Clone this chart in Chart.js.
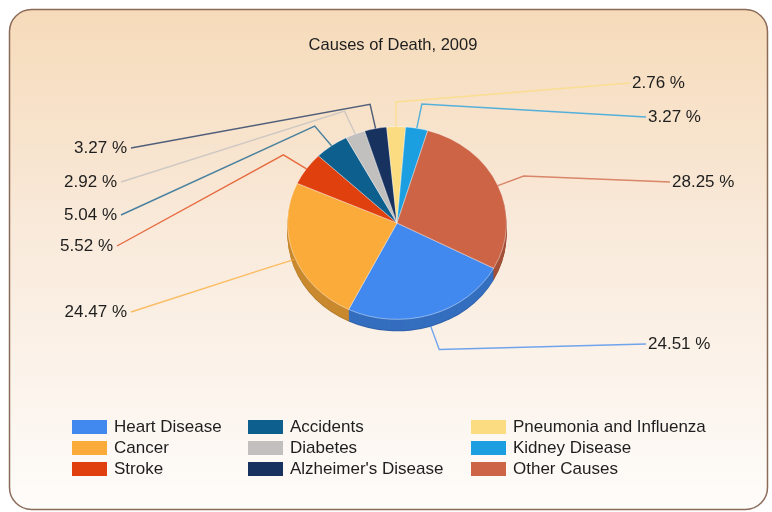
<!DOCTYPE html>
<html>
<head>
<meta charset="utf-8">
<script src="https://cdn.jsdelivr.net/npm/chart.js@4.4.1/dist/chart.umd.min.js"></script>
<style>
  html, body { margin: 0; padding: 0; background: #fff; }
  canvas { display: block; }
</style>
</head>
<body>
<canvas id="deathChart" width="772" height="512"></canvas>
<script>
        // Chart data
        const causes = ['Heart Disease', 'Cancer', 'Stroke', 'Accidents', 'Diabetes',
                        "Alzheimer's Disease", 'Pneumonia and Influenza', 'Kidney Disease', 'Other Causes'];
        const shares = [24.51, 24.47, 5.52, 5.04, 2.92, 3.27, 2.76, 3.27, 28.25];
        const sliceColors = ['#4189ef', '#fbab3a', '#e0400e', '#0d5f8e', '#c2bfbf',
                             '#17325e', '#fbdc80', '#1c9fe0', '#cd6445'];

        // Callout text anchors (layout only), same order as causes
        const calloutSide = ['right', 'left', 'left', 'left', 'left', 'left', 'right', 'right', 'right'];
        const calloutX = [648, 127, 113, 117, 117, 127, 632, 648, 672];
        const calloutY = [344, 312, 246, 215, 182, 148, 83, 117, 182];

        const TILT = 0.88;
        const DEPTH = 12;
        const FONT = '17px "Liberation Sans", Arial, sans-serif';

        function shade(hex, f, alpha) {
            const n = parseInt(hex.slice(1), 16);
            const r = Math.round(((n >> 16) & 255) * f);
            const g = Math.round(((n >> 8) & 255) * f);
            const b = Math.round((n & 255) * f);
            return 'rgba(' + r + ',' + g + ',' + b + ',' + (alpha || 1) + ')';
        }

        const pie3d = {
            id: 'pie3d',
            beforeDraw(chart) {
                const ctx = chart.ctx;
                ctx.save();
                const grad = ctx.createLinearGradient(0, 10, 0, 510);
                grad.addColorStop(0, '#f6dbba');
                grad.addColorStop(0.45, '#f9eadb');
                grad.addColorStop(1, '#fefcfa');
                ctx.beginPath();
                ctx.roundRect(9.5, 9.5, 758, 500, 22);
                ctx.fillStyle = grad;
                ctx.fill();
                ctx.lineWidth = 1.5;
                ctx.strokeStyle = '#8b6b58';
                ctx.stroke();

                ctx.fillStyle = '#1e1e1e';
                ctx.font = '16.5px "Liberation Sans", Arial, sans-serif';
                ctx.textAlign = 'center';
                ctx.textBaseline = 'middle';
                ctx.fillText('Causes of Death, 2009', 393, 45);
                ctx.restore();
            },
            beforeDatasetsDraw(chart) {
                const ctx = chart.ctx;
                const arcs = chart.getDatasetMeta(0).data;
                const cx = arcs[0].x, cy = arcs[0].y, r = arcs[0].outerRadius;
                // side of the tilted pie
                for (let d = DEPTH; d >= 1; d--) {
                    arcs.forEach((a, i) => {
                        ctx.beginPath();
                        ctx.moveTo(cx, cy + d);
                        ctx.ellipse(cx, cy + d, r, r * TILT, 0, a.startAngle, a.endAngle);
                        ctx.closePath();
                        ctx.fillStyle = shade(sliceColors[i], d === DEPTH ? 0.7 : 0.8);
                        ctx.fill();
                    });
                }
                // squash the top face
                ctx.save();
                ctx.translate(cx, cy);
                ctx.scale(1, TILT);
                ctx.translate(-cx, -cy);
            },
            afterDatasetsDraw(chart) {
                const ctx = chart.ctx;
                ctx.restore();
                const arcs = chart.getDatasetMeta(0).data;
                ctx.save();
                ctx.font = FONT;
                ctx.textBaseline = 'middle';
                arcs.forEach((a, i) => {
                    const mid = (a.startAngle + a.endAngle) / 2;
                    const s = Math.sin(mid), c = Math.cos(mid);
                    const drop = s > 0 ? DEPTH * s : 0;
                    const x0 = a.x + a.outerRadius * c;
                    const y0 = a.y + a.outerRadius * TILT * s + drop;
                    const x1 = a.x + (a.outerRadius + 28) * c;
                    const y1 = a.y + (a.outerRadius + 28) * TILT * s + drop;
                    const left = calloutSide[i] === 'left';
                    const x2 = left ? calloutX[i] + 4 : calloutX[i] - 2;
                    const y2 = calloutY[i];
                    ctx.beginPath();
                    ctx.moveTo(x0, y0);
                    ctx.lineTo(x1, y1);
                    ctx.lineTo(x2, y2);
                    ctx.strokeStyle = shade(sliceColors[i], 1, 0.75);
                    ctx.lineWidth = 1.4;
                    ctx.stroke();
                    ctx.fillStyle = '#1e1e1e';
                    ctx.textAlign = left ? 'right' : 'left';
                    ctx.fillText(shares[i].toFixed(2) + ' %', calloutX[i], y2);
                });
                ctx.restore();
            },
            afterDraw(chart) {
                // legend: three columns, filled top to bottom
                const ctx = chart.ctx;
                const colX = [72, 248, 471];
                const rowY = [427, 448, 469];
                ctx.save();
                ctx.font = FONT;
                ctx.textBaseline = 'middle';
                ctx.textAlign = 'left';
                causes.forEach((name, i) => {
                    const x = colX[Math.floor(i / 3)];
                    const y = rowY[i % 3];
                    ctx.fillStyle = sliceColors[i];
                    ctx.fillRect(x, y - 7, 35, 14);
                    ctx.fillStyle = '#1e1e1e';
                    ctx.fillText(name, x + 42, y);
                });
                ctx.restore();
            }
        };

        const ctx = document.getElementById('deathChart').getContext('2d');
        const deathChart = new Chart(ctx, {
            type: 'pie',
            data: {
                labels: causes,
                datasets: [{
                    data: shares,
                    backgroundColor: sliceColors,
                    borderColor: 'rgba(255, 255, 255, 0.45)',
                    borderWidth: 1
                }]
            },
            options: {
                responsive: false,
                devicePixelRatio: 1,
                animation: false,
                rotation: 118,
                layout: {
                    padding: { left: 287, right: 265, top: 113, bottom: 179 }
                },
                plugins: {
                    legend: { display: false },
                    title: { display: false },
                    tooltip: { enabled: false }
                }
            },
            plugins: [pie3d]
        });
</script>
</body>
</html>
